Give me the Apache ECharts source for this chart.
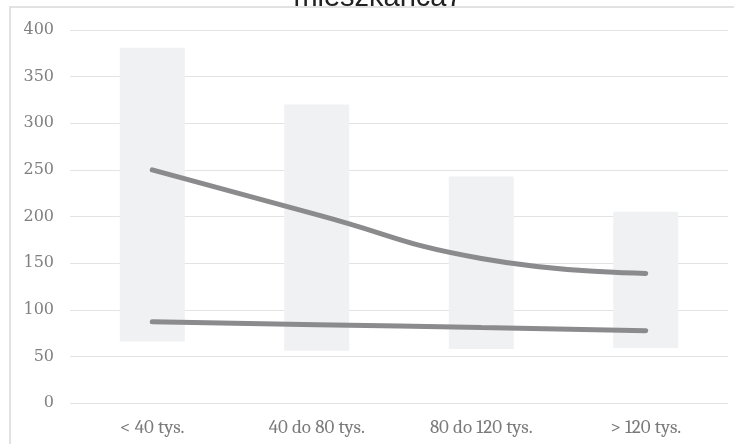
<!DOCTYPE html>
<html>
<head>
<meta charset="utf-8">
<script src="https://cdn.jsdelivr.net/npm/echarts@6/dist/echarts.min.js"></script>
<style>
  html, body { margin: 0; padding: 0; background: #fff; }
  #chart { width: 734px; height: 444px; }
</style>
</head>
<body>
<div id="chart"></div>
<script>
// Population size classes
const categories = ['< 40 tys.', '40 do 80 tys.', '80 do 120 tys.', '> 120 tys.'];
// Range of values per class (floating bar from low to high)
const rangeLow = [66, 56, 58, 59];
const rangeHigh = [381, 320, 243, 205];
// Two trend lines
const upperLine = [250, 202, 155, 139];
const lowerLine = [87, 84, 81, 77.5];
// Value axis ticks
const yMin = 0, yMax = 400, yStep = 50;

const rangeSpan = rangeHigh.map((h, i) => h - rangeLow[i]);

const chart = echarts.init(document.getElementById('chart'), null, { renderer: 'canvas' });

chart.setOption({
  animation: false,
  backgroundColor: '#ffffff',
  graphic: [
    {
      type: 'rect',
      shape: { x: 10, y: 7, width: 740, height: 450 },
      style: { fill: 'none', stroke: '#d9d9d9', lineWidth: 1.5 },
      z: 0
    },
    {
      type: 'text',
      x: 378,
      y: 12,
      style: {
        text: 'mieszkańca7',
        font: '29px Arial, "Liberation Sans", sans-serif',
        fill: '#222',
        align: 'center',
        verticalAlign: 'bottom'
      },
      z: 1
    }
  ],
  grid: { left: 70, right: 6, top: 30, bottom: 41, containLabel: false },
  xAxis: {
    type: 'category',
    data: categories,
    axisLine: { show: false },
    axisTick: { show: false },
    axisLabel: {
      color: '#7a7a7a', fontSize: 19, margin: 15,
      fontFamily: 'Caladea, "DejaVu Serif", serif'
    }
  },
  yAxis: {
    type: 'value',
    min: yMin, max: yMax, interval: yStep,
    axisLine: { show: false },
    axisTick: { show: false },
    splitLine: { lineStyle: { color: '#e3e3e3', width: 1 } },
    axisLabel: {
      color: '#808080', fontSize: 16, margin: 16,
      fontFamily: '"DejaVu Serif", Caladea, serif'
    }
  },
  series: [
    {
      type: 'bar', stack: 'range', data: rangeLow,
      barWidth: 65, itemStyle: { color: 'transparent' }, silent: true
    },
    {
      type: 'bar', stack: 'range', data: rangeSpan,
      barWidth: 65, itemStyle: { color: '#f0f1f3' }
    },
    {
      type: 'line', data: upperLine, smooth: 0.5, symbol: 'none',
      lineStyle: { color: '#8b8b8d', width: 5, cap: 'round' }, z: 5
    },
    {
      type: 'line', data: lowerLine, smooth: 0.5, symbol: 'none',
      lineStyle: { color: '#8b8b8d', width: 5, cap: 'round' }, z: 5
    }
  ]
});
</script>
</body>
</html>
